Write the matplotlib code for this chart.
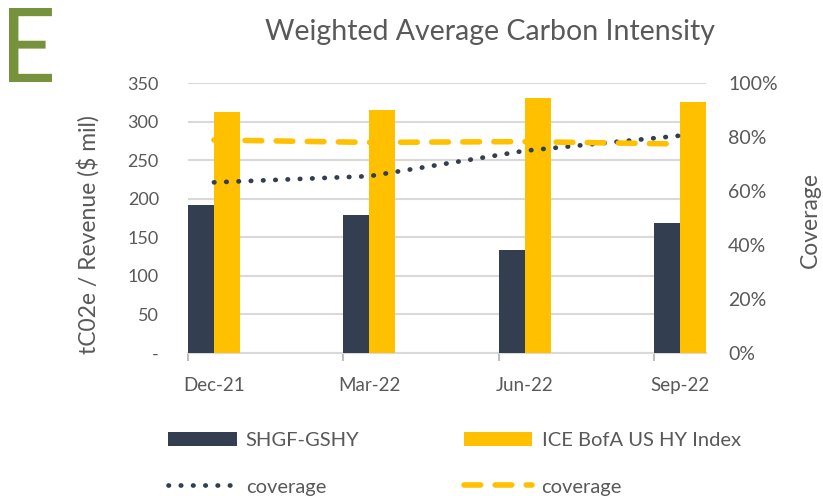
import numpy as np
import matplotlib
matplotlib.use("Agg")
import matplotlib.pyplot as plt
from matplotlib.ticker import FixedLocator, PercentFormatter
from matplotlib.textpath import TextPath
from matplotlib.patches import PathPatch
from matplotlib.font_manager import FontProperties
from matplotlib.transforms import Affine2D, IdentityTransform

plt.rcParams['font.family'] = ['Lato', 'DejaVu Sans']

# data
dates = ['Dec-21', 'Mar-22', 'Jun-22', 'Sep-22']
shgf = [192, 179, 134, 169]
ice = [312, 315, 330, 325]
shgf_cov = [0.632, 0.655, 0.749, 0.805]
ice_cov = [0.789, 0.780, 0.783, 0.774]

navy = '#333F50'
gold = '#FFC000'
grey = '#595959'

fig = plt.figure(figsize=(8.23, 4.96), dpi=100)
ax = fig.add_axes([188/823, (496-353)/496, (706-188)/823, (353-83)/496])

x = np.arange(len(dates))
w = 0.167

# bars
b1 = ax.bar(x - w/2, shgf, width=w, color=navy, zorder=3)
b2 = ax.bar(x + w/2, ice, width=w, color=gold, zorder=3)

ax.set_ylim(0, 350)
ax.set_xlim(-w, 3 + w)
ax.set_yticks(range(0, 351, 50))
ax.set_yticklabels(['-'] + [str(v) for v in range(50, 351, 50)])
ax.yaxis.grid(True, color='#D9D9D9', lw=1.5, zorder=0)
ax.set_axisbelow(True)

ax.set_xticks(x)
ax.set_xticklabels(dates)
ax.xaxis.set_minor_locator(FixedLocator(x - w))
ax.tick_params(axis='x', which='major', length=0, pad=17, labelsize=13.5, labelcolor=grey)
ax.tick_params(axis='x', which='minor', length=6, color='#BFBFBF', width=1.5)
ax.tick_params(axis='y', length=0, pad=21, labelsize=13, labelcolor=grey)

for s in ['top', 'left', 'right']:
    ax.spines[s].set_visible(False)
ax.spines['bottom'].set_color('#D9D9D9')
ax.spines['bottom'].set_linewidth(1.5)

# coverage on the right axis
ax2 = ax.twinx()
l1, = ax2.plot(x, shgf_cov, color=navy, lw=3.4, linestyle=(0, (0.1, 2.5)),
               dash_capstyle='round', zorder=4)
l2, = ax2.plot(x, ice_cov, color=gold, lw=4, linestyle=(0, (3.0, 2.6)),
               dash_capstyle='round', zorder=4)
ax2.set_ylim(0, 1)
ax2.set_yticks(np.arange(0, 1.01, 0.2))
ax2.yaxis.set_major_formatter(PercentFormatter(1.0, decimals=0))
ax2.tick_params(axis='y', length=0, pad=16, labelsize=14, labelcolor=grey)
for s in ['top', 'left', 'right', 'bottom']:
    ax2.spines[s].set_visible(False)

# axis titles
fig.text(88/823, 1 - 235/496, 'tC02e / Revenue ($ mil)', rotation=90, ha='center', va='center',
         fontsize=16.5, color=grey)
fig.text(810/823, 1 - 220/496, 'Coverage', rotation=90, ha='center', va='center',
         fontsize=16.5, color=grey)

fig.text(490/823, 1 - 32/496, 'Weighted Average Carbon Intensity', ha='center', va='center',
         fontsize=20.5, color=grey)

# big green "E", squeezed to the narrow letter of the reference
tp = TextPath((0, 0), 'E', size=100, prop=FontProperties(family='Lato'))
ext = tp.get_extents()
tr = (Affine2D().translate(-ext.x0, -ext.y0)
      .scale(43 / ext.width, 74 / ext.height)
      .translate(9, 496 - 82))
fig.patches.append(PathPatch(tr.transform_path(tp), facecolor='#76923C', edgecolor='none',
                             transform=IdentityTransform(), figure=fig))

leg = fig.legend([b1, l1, b2, l2], ['SHGF-GSHY', 'coverage', 'ICE BofA US HY Index', 'coverage'],
                 ncol=2, loc='upper left', bbox_to_anchor=(150/823, 1 - 414/496),
                 frameon=False, fontsize=14.5, handlelength=3.4, handleheight=0.7,
                 columnspacing=5.2, labelspacing=1.45, handletextpad=0.45)
for t in leg.get_texts():
    t.set_color(grey)

fig.savefig('out.png', dpi=100)
